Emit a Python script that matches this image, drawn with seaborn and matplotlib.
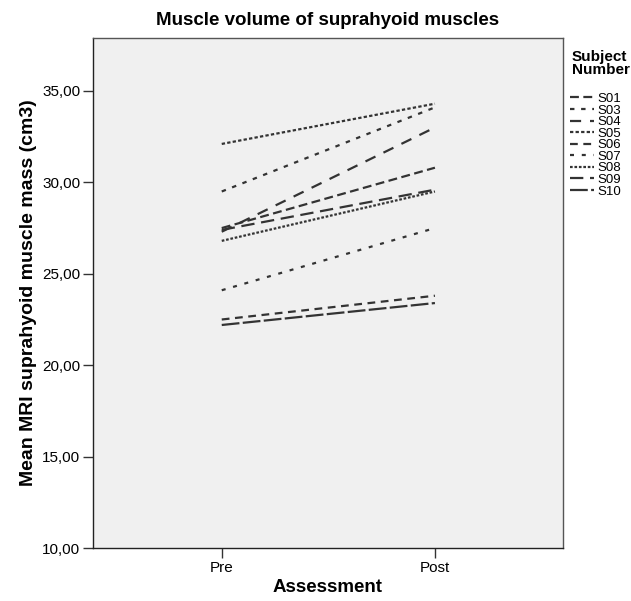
import pandas as pd
import matplotlib
matplotlib.use("Agg")
import matplotlib.pyplot as plt
import seaborn as sns
from matplotlib.lines import Line2D

# data
subjects = ["S01", "S03", "S04", "S05", "S06", "S07", "S08", "S09", "S10"]
pre_vals = [27.5, 29.5, 27.3, 32.1, 22.5, 24.1, 26.8, 27.4, 22.2]
post_vals = [30.8, 34.1, 33.0, 34.3, 23.8, 27.5, 29.5, 29.6, 23.4]
assessments = ["Pre", "Post"]
y_ticks = [10, 15, 20, 25, 30, 35]

# line styles for each subject (SPSS-like dash patterns)
dash_styles = {
    "S01": (4, 2),
    "S03": (2, 3),
    "S04": (5, 4),
    "S05": (1.5, 1),
    "S06": (3.5, 2.5),
    "S07": (1.8, 3.5),
    "S08": (1.2, 0.8),
    "S09": (6, 3),
    "S10": (8, 1.5),
}

rows = []
for s, a, b in zip(subjects, pre_vals, post_vals):
    rows.append({"Subject": s, "Assessment": 0, "Mass": a})
    rows.append({"Subject": s, "Assessment": 1, "Mass": b})
df = pd.DataFrame(rows)

sns.set_style("white")
plt.rcParams["font.family"] = ["Liberation Sans", "DejaVu Sans"]
plt.rcParams["text.color"] = "black"
plt.rcParams["axes.labelcolor"] = "black"
plt.rcParams["xtick.color"] = "black"
plt.rcParams["ytick.color"] = "black"

fig = plt.figure(figsize=(6.31, 6.01), dpi=100)
ax = fig.add_axes([0.147, 0.088, 0.745, 0.849])
ax.set_facecolor("#f0f0f0")

line_color = "#333333"
sns.lineplot(
    data=df, x="Assessment", y="Mass",
    hue="Subject", style="Subject",
    palette={s: line_color for s in subjects},
    dashes=dash_styles, linewidth=1.6,
    legend=False, ax=ax,
)

ax.set_xlim(-0.605, 1.6)
ax.set_ylim(10, 37.9)
ax.set_xticks([0, 1])
ax.set_xticklabels(assessments)
ax.set_yticks(y_ticks)
ax.set_yticklabels([f"{t:.2f}".replace(".", ",") for t in y_ticks])
ax.tick_params(axis="both", labelsize=11, length=7, width=1, color="#333333",
               direction="out", left=True, bottom=True, pad=2)

for sp in ax.spines.values():
    sp.set_color("#555555")
    sp.set_linewidth(1)
ax.spines["left"].set_color("#222222")
ax.spines["bottom"].set_color("#222222")

ax.set_xlabel("Assessment", fontsize=13.5, fontweight="bold", labelpad=3)
ax.set_ylabel("Mean MRI suprahyoid muscle mass (cm3)", fontsize=14, fontweight="bold", labelpad=4)
ax.set_title("Muscle volume of suprahyoid muscles", fontsize=13.5, fontweight="bold", pad=9)

# legend outside on the right
fig.text(0.906, 0.917, "Subject\nNumber", fontsize=11, fontweight="bold",
         va="top", ha="left", linespacing=0.95)
handles = [Line2D([0], [0], color=line_color, lw=1.6, dashes=dash_styles[s]) for s in subjects]
leg = fig.legend(handles, subjects, loc="upper left", bbox_to_anchor=(0.899, 0.85),
                 frameon=False, fontsize=9.5, handlelength=1.8, handletextpad=0.3,
                 labelspacing=-0.05, borderpad=0.2, borderaxespad=0)

fig.savefig("out.png", dpi=100)
